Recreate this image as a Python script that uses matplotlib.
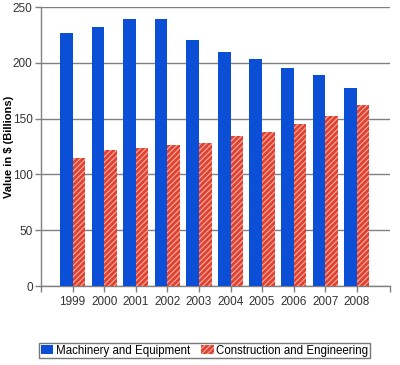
import matplotlib
matplotlib.use("Agg")
import matplotlib.pyplot as plt
import numpy as np

years = ["1999", "2000", "2001", "2002", "2003", "2004", "2005", "2006", "2007", "2008"]
machinery = [227, 232, 239, 239, 220, 210, 203, 195, 189, 177]
construction = [115, 122, 124, 126, 128, 134, 138, 145, 152, 162]
series_names = ["Machinery and Equipment", "Construction and Engineering"]
yticks = [0, 50, 100, 150, 200, 250]

plt.rcParams['font.family'] = ['Liberation Sans', 'DejaVu Sans']
plt.rcParams['hatch.linewidth'] = 0.8

fig = plt.figure(figsize=(4.0, 3.65), dpi=100)
ax = fig.add_axes([0.1025, 0.2164, 0.8725, 0.7644])

x = np.arange(len(years))
w = 0.4
blue = "#0b4fd6"
red = "#e2412f"
b1 = ax.bar(x - w / 2, machinery, w, color=blue, edgecolor=blue, linewidth=0, label=series_names[0], zorder=3)
b2 = ax.bar(x + w / 2, construction, w, facecolor=red, edgecolor="#f6b0a8", hatch="//////", linewidth=0, label=series_names[1], zorder=3)

ax.set_xlim(-1, 10.05)
ax.set_ylim(0, 250)
ax.set_yticks(yticks)
ax.set_xticks(list(x) + [-1, 10.05])
ax.set_xticklabels(years + ["", ""])
ax.yaxis.grid(True, color="#808080", linewidth=1.0, zorder=1)
ax.set_axisbelow(True)
for s in ["top", "right"]:
    ax.spines[s].set_visible(False)
for s in ["left", "bottom"]:
    ax.spines[s].set_color("#808080")
    ax.spines[s].set_linewidth(1.0)
ax.tick_params(axis="both", colors="#808080", labelcolor="#333333", labelsize=8.5, length=4, width=1, pad=2)
ax.tick_params(axis="x", pad=3)
ax.set_ylabel("Value in $ (Billions)", fontsize=8, fontweight="bold")
ax.yaxis.set_label_coords(-0.078, 0.5)

leg = fig.legend(handles=[b1, b2], loc="upper left", bbox_to_anchor=(39 / 400, 1 - 343 / 365), ncol=2,
                 fontsize=8.3, frameon=True, fancybox=False, handlelength=1.1, handleheight=0.8,
                 handletextpad=0.25, columnspacing=0.9, borderpad=0.15, borderaxespad=0)
leg.get_frame().set_edgecolor("#555555")
leg.get_frame().set_linewidth(1.0)

fig.savefig("out.png", dpi=100)
